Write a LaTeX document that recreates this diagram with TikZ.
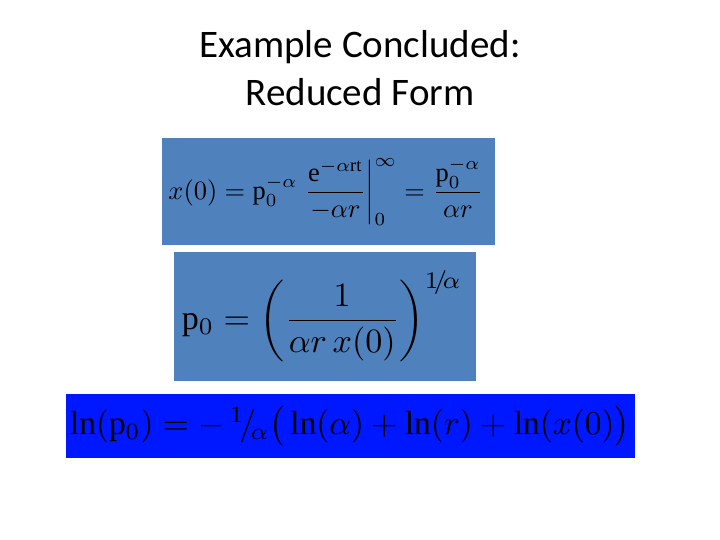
\documentclass[tikz,border=0pt]{standalone}
\usepackage{graphicx}
\usepackage{amsmath}
\usepackage{fontspec}
\setmainfont{Liberation Serif}
\newfontfamily\titlefont{Carlito}
\definecolor{boxblue}{RGB}{79,129,189}
\definecolor{brightblue}{RGB}{0,24,255}
\begin{document}
\begin{tikzpicture}[x=1pt,y=-1pt]
\useasboundingbox[fill=white] (0,0) rectangle (720,540);
\node[font=\titlefont\fontsize{39}{48}\selectfont,align=center] (title) at (360,68) {Example Concluded:\\Reduced Form};
\fill[boxblue] (162,138) rectangle (495,245) coordinate (b1);
\fill[boxblue] (174,252) rectangle (476,381) coordinate (b2);
\fill[brightblue] (66,394) rectangle (635,458) coordinate (b3);
\node (e1) at (326,192) {\resizebox{315pt}{!}{$x(0) = \mathrm{p}_0^{-\alpha}\left.\dfrac{\mathrm{e}^{-\alpha \mathrm{rt}}}{-\alpha r}\right|_0^{\infty} = \dfrac{\mathrm{p}_0^{-\alpha}}{\alpha r}$}};
\node (e2) at (322,316) {\resizebox{280pt}{!}{$\mathrm{p}_0 = \left(\dfrac{1}{\alpha r\, x(0)}\right)^{1\!/\!\alpha}$}};
\node (e3) at (350,426) {\resizebox{560pt}{!}{$\ln(\mathrm{p}_0) = -\,{}^{1}\!/\!_{\alpha}\big(\ln(\alpha) + \ln(r) + \ln(x(0)\big)$}};
\end{tikzpicture}
\end{document}
